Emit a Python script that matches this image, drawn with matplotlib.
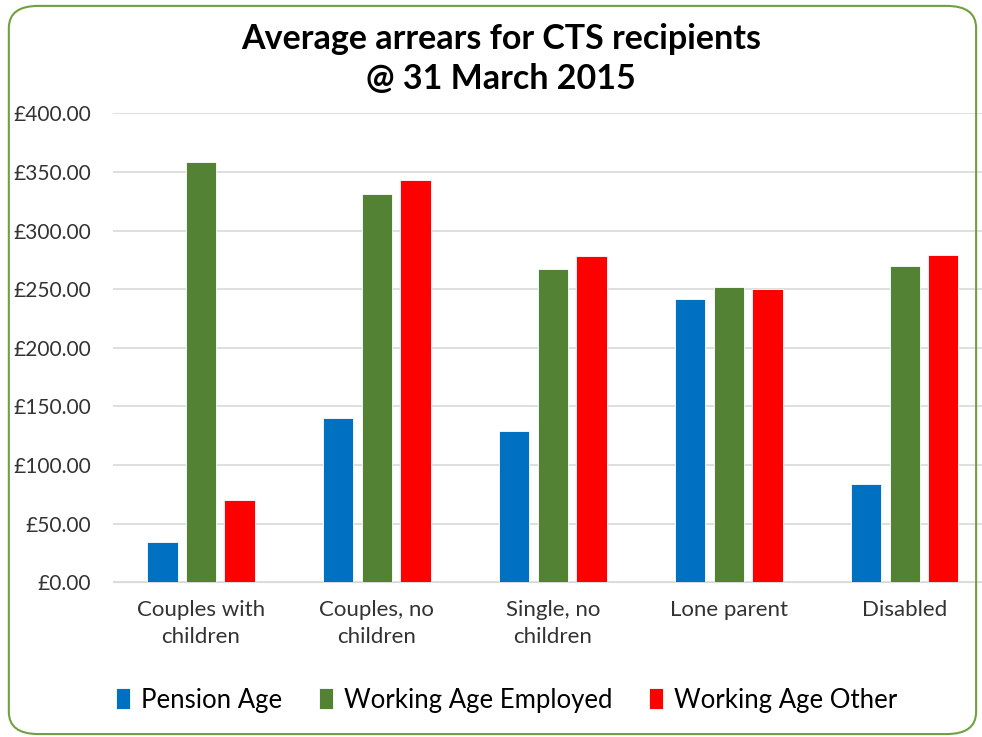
import matplotlib.pyplot as plt
import numpy as np
from matplotlib.patches import FancyBboxPatch

categories = ['Couples with\nchildren', 'Couples, no\nchildren', 'Single, no\nchildren',
              'Lone parent', 'Disabled']
pension = [34, 140, 129, 242, 84]
employed = [359, 331, 267, 252, 270]
other = [70, 343, 278, 250, 279]
series = [('Pension Age', pension, '#0070C0'),
          ('Working Age Employed', employed, '#548235'),
          ('Working Age Other', other, '#FF0000')]

plt.rcParams['font.family'] = ['Lato', 'DejaVu Sans']

fig = plt.figure(figsize=(9.82, 7.37), dpi=100)
ax = fig.add_axes([0.115, 0.21, 0.896, 0.636])

x = np.arange(len(categories))
w = 0.172
step = 0.219
for i, (name, vals, col) in enumerate(series):
    ax.bar(x + (i - 1) * step, vals, w, color=col, label=name,
           edgecolor='white', linewidth=0.6, zorder=3)

ax.set_ylim(0, 400)
ax.set_xlim(-0.5, len(categories) - 0.5)
ax.set_yticks(np.arange(0, 401, 50))
ax.set_yticklabels(['£%.2f' % v for v in np.arange(0, 401, 50)], fontsize=15, color='#333333')
ax.set_xticks(x)
ax.set_xticklabels(categories, fontsize=16, color='#333333', linespacing=1.45)
ax.tick_params(length=0)
ax.tick_params(axis='x', pad=13)
ax.tick_params(axis='y', pad=16)
ax.grid(axis='y', color='#D9D9D9', linewidth=1.2, zorder=0)
for s in ax.spines.values():
    s.set_visible(False)
ax.spines['bottom'].set_visible(True)
ax.spines['bottom'].set_color('#D9D9D9')

fig.text(0.51, 0.947, 'Average arrears for CTS recipients', ha='center', va='center',
         fontsize=24.5, fontweight='bold')
fig.text(0.51, 0.893, '@ 31 March 2015', ha='center', va='center',
         fontsize=24.5, fontweight='bold')

fig.legend(loc='center', bbox_to_anchor=(0.516, 0.05), ncol=3, frameon=False,
           fontsize=18.5, handlelength=0.55, handleheight=0.9, handletextpad=0.45,
           columnspacing=1.4)

border = FancyBboxPatch((0.009, 0.004), 0.985, 0.988, transform=fig.transFigure,
                        boxstyle='round,pad=0,rounding_size=0.03', fill=False,
                        edgecolor='#70A040', linewidth=1.5)
fig.patches.append(border)

fig.savefig('out.png', dpi=100)
